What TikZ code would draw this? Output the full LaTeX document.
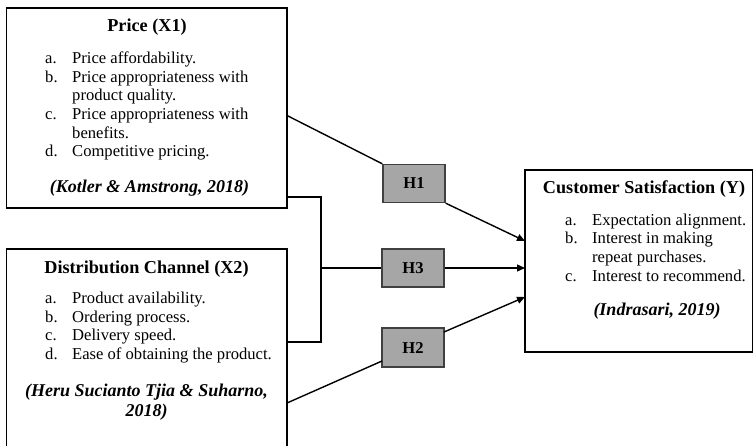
\documentclass[tikz,border=0pt]{standalone}
\usepackage{fontspec}
\setmainfont{Liberation Serif}
\usetikzlibrary{arrows.meta}
\newcommand{\itemfnt}{\fontsize{16.6}{18.7}\selectfont}
\newcommand{\titlefnt}{\fontsize{18.2}{21}\selectfont\bfseries}
\newcommand{\citefnt}{\fontsize{18}{20}\selectfont\bfseries\itshape}
\begin{document}
\begin{tikzpicture}[x=1pt,y=-1pt,
 box/.style={draw=black, line width=1.4pt, rectangle, inner sep=0pt},
 hbox/.style={draw=black!75, fill=black!35, line width=1.4pt, minimum width=62pt, minimum height=38pt, inner sep=0pt, font=\itemfnt\bfseries},
 conn/.style={line width=1.4pt},
 arr/.style={conn, -{Triangle[length=8pt,width=7pt]}},
 ttl/.style={anchor=base, inner sep=0pt, font=\titlefnt},
 lst/.style={anchor=base west, inner sep=0pt, font=\itemfnt},
 cit/.style={anchor=base, inner sep=0pt, font=\citefnt, align=center}]
\useasboundingbox (0,0) rectangle (754,445);
\clip (0,0) rectangle (754,445);

% boxes
\node[box, minimum width=280.5pt, minimum height=200pt] (price) at (146.75,108) {};
\node[box, minimum width=280.5pt, minimum height=212pt] (dist) at (146.75,355) {};
\node[box, minimum width=227.5pt, minimum height=182pt] (ybox) at (638.75,261) {};

% price text
\node[ttl] (ptitle) at (147,31.5) {Price (X1)};
\node[lst] (plist) at (45,63.3) {\begin{tabular}[t]{@{}p{27pt}@{}l@{}}
a. & Price affordability.\\
b. & Price appropriateness with\\
   & product quality.\\
c. & Price appropriateness with\\
   & benefits.\\
d. & Competitive pricing.
\end{tabular}};
\node[cit] (pcite) at (149.5,192.5) {(Kotler \& Amstrong, 2018)};

% distribution text
\node[ttl] (dtitle) at (146.5,273) {Distribution Channel (X2)};
\node[lst] (dlist) at (45,303.3) {\begin{tabular}[t]{@{}p{27pt}@{}l@{}}
a. & Product availability.\\
b. & Ordering process.\\
c. & Delivery speed.\\
d. & Ease of obtaining the product.
\end{tabular}};
\node[cit] (dcite) at (146.5,416.7) {(Heru Sucianto Tjia \& Suharno,\\ 2018)};

% Y text
\node[ttl] (ytitle) at (644,193.3) {Customer Satisfaction (Y)};
\node[lst] (ylist) at (565,225) {\begin{tabular}[t]{@{}p{27pt}@{}l@{}}
a. & Expectation alignment.\\
b. & Interest in making\\
   & repeat purchases.\\
c. & Interest to recommend.
\end{tabular}};
\node[cit] (ycite) at (657,315.7) {(Indrasari, 2019)};

% hypothesis boxes
\node[hbox] (h1) at (414,183.5) {H1};
\node[hbox] (h3) at (413,268) {H3};
\node[hbox, minimum height=39pt] (h2) at (413,347.5) {H2};

% connector points
\coordinate (pout) at (287,115.5);
\coordinate (pbr) at (287,197);
\coordinate (dbr) at (287,342);
\coordinate (dout) at (287,403);
\coordinate (bk) at (321,268);
\coordinate (h2in) at (382,361);
\coordinate (h2out) at (444,332);
\coordinate (y1) at (525,241);
\coordinate (y3) at (525,268);
\coordinate (y2) at (525,297);

% connectors
\draw[conn] (pout) -- (h1.north west);
\draw[arr] (h1.south east) -- (y1);
\draw[conn] (pbr) -| (bk) |- (dbr);
\draw[conn] (bk) -- (h3.west);
\draw[arr] (h3.east) -- (y3);
\draw[conn] (dout) -- (h2in);
\draw[arr] (h2out) -- (y2);
\end{tikzpicture}
\end{document}
